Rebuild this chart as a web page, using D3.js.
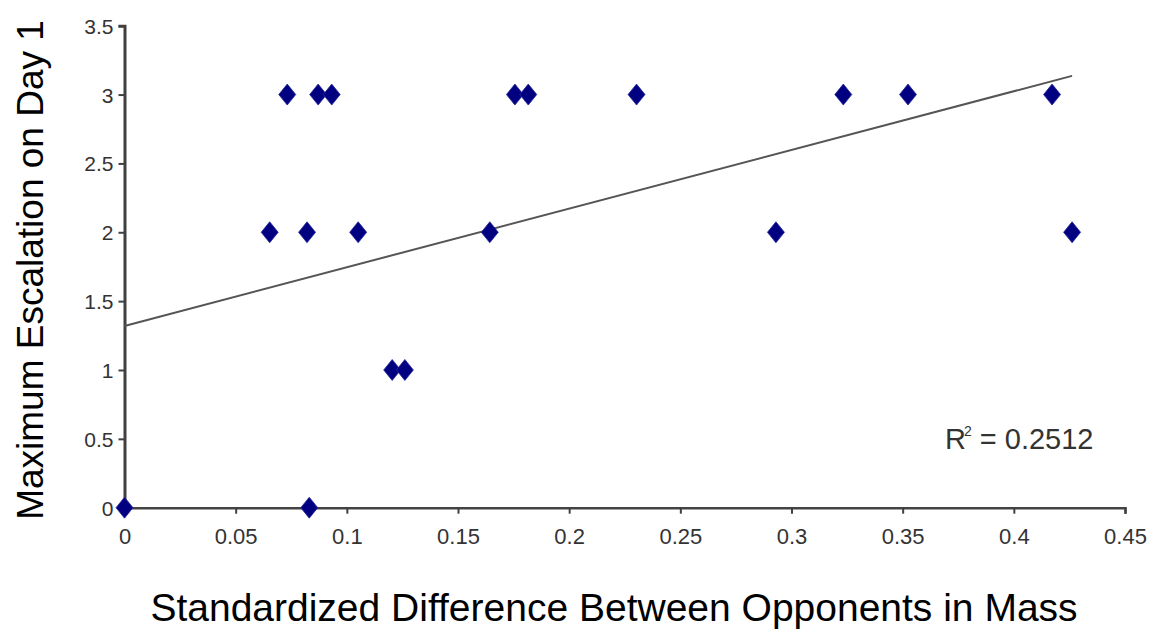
<!DOCTYPE html>
<html>
<head>
<meta charset="utf-8">
<script src="https://cdn.jsdelivr.net/npm/d3@7"></script>
<style>
  body { margin: 0; background: #fff; }
  text { font-family: "Liberation Sans", Arial, sans-serif; }
</style>
</head>
<body>
<div id="chart"></div>
<script>
// Data
var massDiff = [0, 0.0831, 0.0653, 0.0821, 0.1051, 0.1643, 0.293, 0.4262,
                0.1204, 0.1261,
                0.0732, 0.0871, 0.0932, 0.1756, 0.1816, 0.2303, 0.3233, 0.3524, 0.4172];
var escalation = [0, 0, 2, 2, 2, 2, 2, 2,
                  1, 1,
                  3, 3, 3, 3, 3, 3, 3, 3, 3];
var xTicks = [0, 0.05, 0.1, 0.15, 0.2, 0.25, 0.3, 0.35, 0.4, 0.45];
var yTicks = [0, 0.5, 1, 1.5, 2, 2.5, 3, 3.5];
// linear trendline as shown
var trendIntercept = 1.32;
var trendSlope = 4.26;
var rSquaredLabel = "0.2512";

var width = 1168;
var height = 635;

var svg = d3.select("#chart")
    .append("svg")
    .attr("width", width)
    .attr("height", height);

var x = d3.scaleLinear()
    .domain([0, 0.45])
    .range([124.5, 1125]);

var y = d3.scaleLinear()
    .domain([0, 3.5])
    .range([507.7, 25.7]);

// y axis
var yAxis = svg.append("g")
    .attr("transform", "translate(" + x(0) + ",0)")
    .call(d3.axisLeft(y).tickValues(yTicks).tickSize(6).tickPadding(5)
        .tickFormat(function(d) { return d; }));
yAxis.select(".domain").attr("stroke", "#404040").attr("stroke-width", 3);
yAxis.selectAll(".tick line").attr("stroke", "#404040").attr("stroke-width", 2);
yAxis.selectAll("text")
    .attr("font-size", 21)
    .attr("fill", "#333")
    .attr("dy", "0.36em")
    .style("font-family", "'Liberation Sans', Arial, sans-serif");

// x axis
var xAxis = svg.append("g")
    .attr("transform", "translate(0," + y(0) + ")")
    .call(d3.axisBottom(x).tickValues(xTicks).tickSize(6).tickPadding(15)
        .tickFormat(function(d) { return d; }));
xAxis.select(".domain").attr("stroke", "#444").attr("stroke-width", 2.5);
xAxis.selectAll(".tick line").attr("stroke", "#404040").attr("stroke-width", 2);
xAxis.selectAll("text")
    .attr("font-size", 22)
    .attr("fill", "#333")
    .style("font-family", "'Liberation Sans', Arial, sans-serif");

// trendline
var xMax = d3.max(massDiff);
svg.append("line")
    .attr("x1", x(0))
    .attr("y1", y(trendIntercept))
    .attr("x2", x(xMax))
    .attr("y2", y(trendIntercept + trendSlope * xMax))
    .attr("stroke", "#555")
    .attr("stroke-width", 2);

// diamonds
var diamond = "M0,-10.5L8.5,0L0,10.5L-8.5,0Z";
svg.selectAll(".pt")
    .data(massDiff)
    .enter().append("path")
    .attr("class", "pt")
    .attr("d", diamond)
    .attr("transform", function(d, i) { return "translate(" + x(d) + "," + y(escalation[i]) + ")"; })
    .attr("fill", "#000080")
    .attr("stroke", "#2a2a9a")
    .attr("stroke-width", 0.8);

// R squared label
var rText = svg.append("text")
    .attr("x", 945)
    .attr("y", 449)
    .attr("font-size", 29)
    .attr("fill", "#333");
rText.append("tspan").text("R");
rText.append("tspan").attr("font-size", 14).attr("dx", -2).attr("dy", -13).text("2");
rText.append("tspan").attr("dy", 13).text(" = " + rSquaredLabel);

// axis titles
svg.append("text")
    .attr("transform", "translate(43,270) rotate(-90)")
    .attr("text-anchor", "middle")
    .attr("font-size", 37)
    .attr("fill", "#000")
    .text("Maximum Escalation on Day 1");

svg.append("text")
    .attr("x", 614)
    .attr("y", 621)
    .attr("text-anchor", "middle")
    .attr("font-size", 39)
    .attr("fill", "#000")
    .text("Standardized Difference Between Opponents in Mass");
</script>
</body>
</html>
